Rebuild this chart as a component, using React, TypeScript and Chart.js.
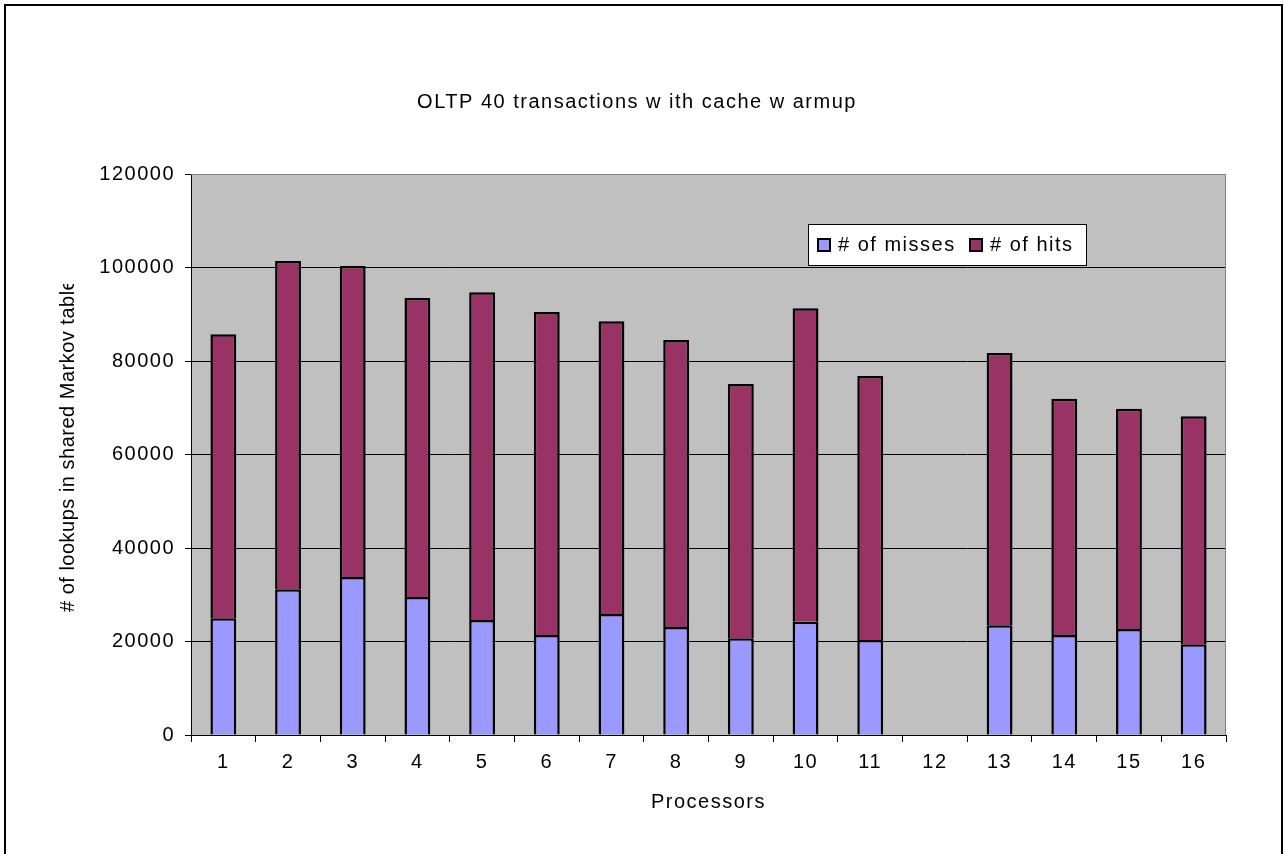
import { useEffect, useRef } from "react";
import { Chart, registerables } from "chart.js";

Chart.register(...registerables);

// Processor ids along the category axis
const processors = ["1", "2", "3", "4", "5", "6", "7", "8", "9", "10", "11", "12", "13", "14", "15", "16"];

// Lookups that missed the shared Markov table (processor 12 has no data)
const misses = [25000, 31200, 33800, 29500, 24600, 21400, 25900, 23100, 20700, 24200, 20300, null, 23500, 21400, 22700, 19400];

// Lookups that hit the shared Markov table
const hits = [60700, 70200, 66500, 64000, 70100, 69100, 62600, 61400, 54400, 67100, 56500, null, 58200, 50500, 47100, 48800];

// Value axis ticks
const yTicks = [0, 20000, 40000, 60000, 80000, 100000, 120000];

const chartTitle = "OLTP 40 transactions w ith cache w armup";
const xTitle = "Processors";
const yTitle = "# of lookups in shared Markov table";

const FONT = "'Liberation Sans', Arial, Helvetica, sans-serif";
const FONT_SIZE = 20;
const SPACING = "1.5px";

const decorations = {
  id: "decorations",
  beforeDraw(chart: any) {
    const { ctx, chartArea: a, width, height } = chart;
    ctx.save();
    ctx.fillStyle = "#ffffff";
    ctx.fillRect(0, 0, width, height);
    // outer frame
    ctx.strokeStyle = "#000000";
    ctx.lineWidth = 2;
    ctx.beginPath();
    ctx.moveTo(5, height + 5);
    ctx.lineTo(5, 5);
    ctx.lineTo(1282, 5);
    ctx.lineTo(1282, height + 5);
    ctx.stroke();
    // plot background
    ctx.fillStyle = "#c0c0c0";
    ctx.fillRect(a.left, a.top, a.right - a.left, a.bottom - a.top);
    ctx.restore();
    (ctx as any).letterSpacing = SPACING;
  },
  afterDraw(chart: any) {
    const { ctx, chartArea: a } = chart;
    ctx.save();
    (ctx as any).letterSpacing = SPACING;
    // plot border (top and right)
    ctx.strokeStyle = "#808080";
    ctx.lineWidth = 1;
    ctx.beginPath();
    ctx.moveTo(a.left, a.top + 0.5);
    ctx.lineTo(a.right - 0.5, a.top + 0.5);
    ctx.lineTo(a.right - 0.5, a.bottom);
    ctx.stroke();

    ctx.fillStyle = "#000000";
    ctx.font = `${FONT_SIZE}px ${FONT}`;
    ctx.textBaseline = "middle";

    // chart title
    ctx.textAlign = "center";
    ctx.fillText(chartTitle, 637, 102);

    // x-axis title
    ctx.fillText(xTitle, (a.left + a.right) / 2, 802);

    // y-axis title, clipped at the top
    ctx.save();
    (ctx as any).letterSpacing = "0.5px";
    ctx.beginPath();
    ctx.rect(0, 284, 190, 600);
    ctx.clip();
    ctx.translate(68, 612);
    ctx.rotate(-Math.PI / 2);
    ctx.textAlign = "left";
    ctx.fillText(yTitle, 0, 0);
    ctx.restore();

    // legend
    const lx = 808, ly = 224, lw = 279, lh = 42;
    ctx.fillStyle = "#ffffff";
    ctx.fillRect(lx, ly, lw, lh);
    ctx.strokeStyle = "#000000";
    ctx.lineWidth = 1;
    ctx.strokeRect(lx + 0.5, ly + 0.5, lw - 1, lh - 1);
    const items = chart.data.datasets;
    const swatchX = [817, 969];
    items.forEach((ds: any, i: number) => {
      const sx = swatchX[i];
      const sy = 238;
      ctx.fillStyle = ds.backgroundColor;
      ctx.fillRect(sx, sy, 14, 14);
      ctx.strokeStyle = "#000000";
      ctx.lineWidth = 2;
      ctx.strokeRect(sx + 1, sy + 1, 12, 12);
      ctx.fillStyle = "#000000";
      ctx.textAlign = "left";
      ctx.fillText(ds.label, sx + 21, 245);
    });
    ctx.restore();
  },
};

export default function App() {
  const canvasRef = useRef<HTMLCanvasElement | null>(null);

  useEffect(() => {
    document.body.style.margin = "0";
    const canvas = canvasRef.current;
    if (!canvas) return;
    const chart = new Chart(canvas, {
      type: "bar",
      data: {
        labels: processors,
        datasets: [
          {
            label: "# of misses",
            data: misses,
            backgroundColor: "#9999ff",
            borderColor: "#000000",
            borderWidth: 2.5,
            categoryPercentage: 1,
            barPercentage: 0.4,
          },
          {
            label: "# of hits",
            data: hits,
            backgroundColor: "#993366",
            borderColor: "#000000",
            borderWidth: 2.5,
            categoryPercentage: 1,
            barPercentage: 0.4,
          },
        ],
      },
      options: {
        responsive: false,
        animation: false,
        devicePixelRatio: 1,
        layout: { padding: { left: 0, top: 174, right: 59, bottom: 69 } },
        plugins: {
          legend: { display: false },
          title: { display: false },
          tooltip: { enabled: false },
        },
        scales: {
          x: {
            stacked: true,
            offset: true,
            afterFit: (s: any) => {
              s.height = 50;
            },
            grid: {
              display: true,
              offset: true,
              drawOnChartArea: false,
              drawTicks: true,
              tickLength: 7,
              tickColor: "#000000",
              color: "#000000",
            },
            border: { display: true, color: "#000000", width: 1 },
            ticks: {
              color: "#000000",
              font: { family: FONT, size: FONT_SIZE },
              padding: 8,
              maxRotation: 0,
              autoSkip: false,
            },
          },
          y: {
            stacked: true,
            min: 0,
            max: 120000,
            afterFit: (s: any) => {
              s.width = 191;
            },
            afterBuildTicks: (s: any) => {
              s.ticks = yTicks.map((v) => ({ value: v }));
            },
            grid: {
              color: (c: any) => (c.tick && c.tick.value === 120000 ? "#808080" : "#000000"),
              drawTicks: true,
              tickLength: 6,
              tickColor: "#000000",
              lineWidth: 1,
            },
            border: { display: true, color: "#000000", width: 1 },
            ticks: {
              color: "#000000",
              font: { family: FONT, size: FONT_SIZE },
              padding: 10,
              callback: (v: any) => String(v),
            },
          },
        },
      },
      plugins: [decorations],
    });
    return () => chart.destroy();
  }, []);

  return (
    <div style={{ position: "absolute", left: 0, top: 0, width: 1285, height: 854 }}>
      <canvas ref={canvasRef} width={1285} height={854} />
    </div>
  );
}
